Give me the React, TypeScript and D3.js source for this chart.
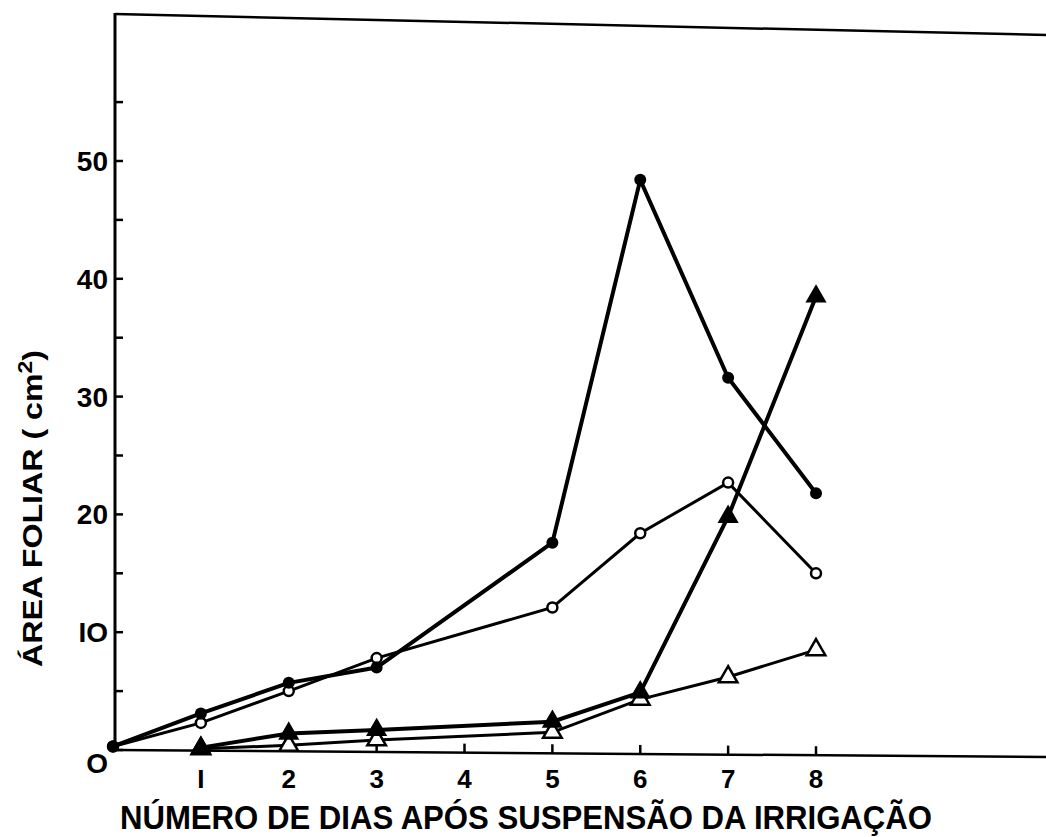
import React from "react";
import * as d3 from "d3";

const circleDays = [0, 1, 2, 3, 5, 6, 7, 8];
const filledCircle = [0.3, 3.1, 5.7, 7.0, 17.6, 48.4, 31.6, 21.8];
const openCircle = [0.3, 2.3, 5.0, 7.8, 12.1, 18.4, 22.7, 15.0];
const triangleDays = [1, 2, 3, 5, 6, 7, 8];
const filledTriangle = [0.2, 1.4, 1.7, 2.4, 4.9, 19.8, 38.5];
const openTriangle = [0.1, 0.4, 0.85, 1.5, 4.3, 6.2, 8.5];
const xTicks = [1, 2, 3, 4, 5, 6, 7, 8];
const xTickLabels = ["I", "2", "3", "4", "5", "6", "7", "8"];
const yLabelTicks = [0, 10, 20, 30, 40, 50];
const yMinorTicks = [5, 15, 25, 35, 45, 55];

const W = 1046;
const H = 837;

export default function App() {
  const x = d3.scaleLinear().domain([0, 8]).range([113, 816]);
  const y = d3.scaleLinear().domain([0, 50]).range([750, 161]);
  const line = d3
    .line<[number, number]>()
    .x((d) => x(d[0]))
    .y((d) => y(d[1]));
  const zip = (a: number[], b: number[]) => a.map((v, i) => [v, b[i]] as [number, number]);
  const tri = d3.symbol().type(d3.symbolTriangle).size(150)();
  const font = "'Liberation Sans', Arial, sans-serif";
  const x0 = 115;

  return (
    <svg width={W} height={H} style={{ position: "absolute", left: 0, top: 0, background: "#fff" }}>
      <rect width={W} height={H} fill="#fff" />
      {/* frame */}
      <line x1={x0} y1={13} x2={x0} y2={751} stroke="#000" strokeWidth={3} />
      <line x1={x0} y1={14} x2={W} y2={35} stroke="#000" strokeWidth={2.5} />
      <line x1={x0} y1={750} x2={W} y2={757} stroke="#000" strokeWidth={2.5} />
      {/* y ticks */}
      {yLabelTicks.concat(yMinorTicks).map((t) => (
        <line key={"yt" + t} x1={x0} x2={x0 + 8} y1={y(t)} y2={y(t)} stroke="#000" strokeWidth={2.5} />
      ))}
      {yLabelTicks.map((t) => (
        <text
          key={"yl" + t}
          x={108}
          y={y(t) + (t === 0 ? 23 : 10)}
          textAnchor="end"
          fontFamily={font}
          fontSize={28}
          fontWeight="bold"
        >
          {t === 0 ? "O" : t === 10 ? "IO" : String(t)}
        </text>
      ))}
      {/* x ticks */}
      {xTicks.map((t, i) => {
        const by = 750 + ((x(t) - x0) / (W - x0)) * 7;
        return (
          <g key={"xt" + t}>
            <line x1={x(t)} x2={x(t)} y1={by} y2={by - 9} stroke="#000" strokeWidth={2.5} />
            <text
              x={x(t)}
              y={788}
              textAnchor="middle"
              fontFamily={font}
              fontSize={26}
              fontWeight="bold"
            >
              {xTickLabels[i]}
            </text>
          </g>
        );
      })}
      {/* axis titles */}
      <text
        x={120}
        y={829}
        fontFamily={font}
        fontSize={33}
        fontWeight="bold"
        textLength={812}
        lengthAdjust="spacingAndGlyphs"
      >
        NÚMERO DE DIAS APÓS SUSPENSÃO DA IRRIGAÇÃO
      </text>
      <text
        transform={`translate(42,667) rotate(-90)`}
        fontFamily={font}
        fontSize={28}
        fontWeight="bold"
        textLength={317}
        lengthAdjust="spacingAndGlyphs"
      >
        ÁREA FOLIAR ( cm<tspan dy={-10} fontSize={20}>2</tspan>
        <tspan dy={10}>)</tspan>
      </text>
      {/* series lines */}
      <path d={line(zip(triangleDays, openTriangle)) || ""} fill="none" stroke="#000" strokeWidth={3} />
      <path d={line(zip(triangleDays, filledTriangle)) || ""} fill="none" stroke="#000" strokeWidth={4} />
      <path d={line(zip(circleDays, openCircle)) || ""} fill="none" stroke="#000" strokeWidth={3} />
      <path d={line(zip(circleDays, filledCircle)) || ""} fill="none" stroke="#000" strokeWidth={4} />
      {/* markers */}
      {triangleDays.map((d, i) => (
        <path
          key={"ot" + d}
          d={tri || ""}
          transform={`translate(${x(d)},${y(openTriangle[i])})`}
          fill="#fff"
          stroke="#000"
          strokeWidth={2.5}
        />
      ))}
      {triangleDays.map((d, i) => (
        <path
          key={"ft" + d}
          d={tri || ""}
          transform={`translate(${x(d)},${y(filledTriangle[i])})`}
          fill="#000"
          stroke="#000"
          strokeWidth={1.5}
        />
      ))}
      {circleDays.map((d, i) => (
        <circle key={"oc" + d} cx={x(d)} cy={y(openCircle[i])} r={5} fill="#fff" stroke="#000" strokeWidth={2.5} />
      ))}
      {circleDays.map((d, i) => (
        <circle key={"fc" + d} cx={x(d)} cy={y(filledCircle[i])} r={6} fill="#000" />
      ))}
    </svg>
  );
}
